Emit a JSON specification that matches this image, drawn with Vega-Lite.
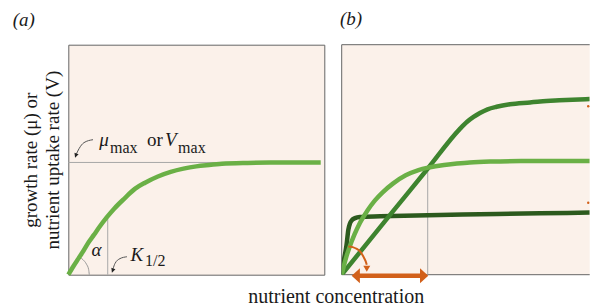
{
  "$schema": "https://vega.github.io/schema/vega-lite/v6.json",
  "autosize": {"type": "none"},
  "padding": {"left": 68.3, "top": 44.7, "right": 521.7, "bottom": 263.3},
  "bounds": "flush",
  "spacing": 17.4,
  "background": "white",
  "config": {
    "font": "Liberation Serif",
    "axis": {"grid": false, "labels": false, "ticks": false, "domain": false},
    "title": {"font": "Liberation Serif", "fontSize": 19, "fontWeight": "normal", "fontStyle": "italic", "color": "#1a1a1a", "anchor": "start", "frame": "group", "baseline": "alphabetic", "offset": 15}
  },
  "datasets": {
    "curveA": [
      {"x": 0, "y": 0}, {"x": 2, "y": 3.7}, {"x": 4, "y": 7.1}, {"x": 6, "y": 10.5}, {"x": 8, "y": 14.2},
      {"x": 10, "y": 17.3}, {"x": 12, "y": 20.5}, {"x": 15, "y": 24.9}, {"x": 18, "y": 28.8}, {"x": 22, "y": 33.2},
      {"x": 26, "y": 37.3}, {"x": 30, "y": 40.0}, {"x": 35, "y": 42.7}, {"x": 40, "y": 44.7}, {"x": 45, "y": 46.1},
      {"x": 50, "y": 47.1}, {"x": 55, "y": 47.7}, {"x": 60, "y": 48.2}, {"x": 70, "y": 48.6}, {"x": 80, "y": 48.75},
      {"x": 90, "y": 48.8}, {"x": 98.6, "y": 48.8}
    ],
    "guidesA": [
      {"x": 0, "x2": 70, "y": 48.8, "y2": 48.8},
      {"x": 15.4, "x2": 15.4, "y": 0, "y2": 25.3}
    ],
    "arcA": [
      {"x": 8.2, "y": 0}, {"x": 7.93, "y": 2.35}, {"x": 7.1, "y": 4.57}, {"x": 5.8, "y": 6.46}, {"x": 4.45, "y": 7.65}
    ],
    "arrowsA": [
      {"arrow": "max", "x": 9.65, "y": 58.7}, {"arrow": "max", "x": 6.1, "y": 57.4}, {"arrow": "max", "x": 4.2, "y": 54.8}, {"arrow": "max", "x": 3.2, "y": 52.6},
      {"arrow": "K", "x": 22.9, "y": 7.8}, {"arrow": "K", "x": 20.2, "y": 7.0}, {"arrow": "K", "x": 18.2, "y": 4.8}, {"arrow": "K", "x": 17.5, "y": 2.6}
    ],
    "headsA": [
      {"arrow": "max", "x": 3.0, "y": 52.0},
      {"arrow": "K", "x": 17.4, "y": 2.0}
    ],
    "italicA": [
      {"t": "μ", "x": 12.1, "y": 55.8},
      {"t": "V", "x": 37.8, "y": 55.8},
      {"t": "α", "x": 9.1, "y": 8.0},
      {"t": "K", "x": 24.3, "y": 5.8}
    ],
    "romanA": [
      {"t": "or", "x": 30.7, "y": 55.8}
    ],
    "subA": [
      {"t": "max", "x": 16.3, "y": 53.0},
      {"t": "max", "x": 42.9, "y": 53.0},
      {"t": "1/2", "x": 30.0, "y": 3.6}
    ],
    "frameB": [
      {"x": 0, "x2": 0, "y": 0, "y2": 100},
      {"x": 0, "x2": 96.875, "y": 100, "y2": 100},
      {"x": 0, "x2": 96.875, "y": 0, "y2": 0}
    ],
    "guidesB": [
      {"x": 33.6, "x2": 33.6, "y": 0, "y2": 46.5}
    ],
    "curvesB": [
      {"series": "curve 1", "x": 0, "y": 0}, {"series": "curve 1", "x": 0.9, "y": 6.5}, {"series": "curve 1", "x": 1.9, "y": 13.0},
      {"series": "curve 1", "x": 2.6, "y": 19.6}, {"series": "curve 1", "x": 3.2, "y": 22.2}, {"series": "curve 1", "x": 4.0, "y": 23.7},
      {"series": "curve 1", "x": 5.2, "y": 24.6}, {"series": "curve 1", "x": 7.1, "y": 25.1}, {"series": "curve 1", "x": 15, "y": 25.4},
      {"series": "curve 1", "x": 33.7, "y": 25.9}, {"series": "curve 1", "x": 54, "y": 26.3}, {"series": "curve 1", "x": 77.5, "y": 26.7},
      {"series": "curve 1", "x": 96.9, "y": 27.0},
      {"series": "curve 2", "x": 0, "y": 0}, {"series": "curve 2", "x": 20, "y": 27.5}, {"series": "curve 2", "x": 33.8, "y": 46.4},
      {"series": "curve 2", "x": 46, "y": 63.2}, {"series": "curve 2", "x": 49, "y": 66.5}, {"series": "curve 2", "x": 51.5, "y": 68.6},
      {"series": "curve 2", "x": 54, "y": 70.3}, {"series": "curve 2", "x": 57, "y": 71.9}, {"series": "curve 2", "x": 60.5, "y": 73.0},
      {"series": "curve 2", "x": 65.7, "y": 74.1}, {"series": "curve 2", "x": 73.6, "y": 74.9}, {"series": "curve 2", "x": 77.5, "y": 75.3},
      {"series": "curve 2", "x": 85, "y": 75.8}, {"series": "curve 2", "x": 96.9, "y": 76.4},
      {"series": "curve 3", "x": 0, "y": 0}, {"series": "curve 3", "x": 1, "y": 4.5}, {"series": "curve 3", "x": 2, "y": 8.5},
      {"series": "curve 3", "x": 3, "y": 11.8}, {"series": "curve 3", "x": 5, "y": 17.5}, {"series": "curve 3", "x": 7, "y": 22.3},
      {"series": "curve 3", "x": 10, "y": 27.8}, {"series": "curve 3", "x": 13, "y": 32.3}, {"series": "curve 3", "x": 16, "y": 35.8},
      {"series": "curve 3", "x": 20, "y": 39.6}, {"series": "curve 3", "x": 25, "y": 43.2}, {"series": "curve 3", "x": 30, "y": 45.5},
      {"series": "curve 3", "x": 34, "y": 46.6}, {"series": "curve 3", "x": 40, "y": 47.7}, {"series": "curve 3", "x": 45, "y": 48.3},
      {"series": "curve 3", "x": 50, "y": 48.8}, {"series": "curve 3", "x": 58, "y": 49.2}, {"series": "curve 3", "x": 70, "y": 49.4},
      {"series": "curve 3", "x": 80, "y": 49.4}, {"series": "curve 3", "x": 96.9, "y": 49.4}
    ],
    "shaftB": [
      {"x": 5.5, "x2": 32.2, "y": -0.43}
    ],
    "endsB": [
      {"end": "left", "x": 5.5, "y": -0.43},
      {"end": "right", "x": 32.2, "y": -0.43}
    ],
    "arcB": [
      {"x": 2.6, "y": 12.3}, {"x": 4.3, "y": 12.0}, {"x": 5.9, "y": 11.2}, {"x": 7.4, "y": 9.8},
      {"x": 8.4, "y": 8.0}, {"x": 9.3, "y": 6.0}, {"x": 9.8, "y": 4.3}
    ],
    "arcHeadB": [
      {"x": 9.8, "y": 3.0}
    ],
    "edgeMarksB": [
      {"x": 96.3, "y": 73.2},
      {"x": 96.3, "y": 31.3}
    ]
  },
  "hconcat": [
    {
      "width": 256,
      "height": 230,
      "view": {"fill": "#fbf1ea", "stroke": "#666666", "strokeWidth": 1},
      "title": {"text": "(a)", "dx": -55.6},
      "encoding": {
        "x": {"field": "x", "type": "quantitative", "scale": {"domain": [0, 100], "nice": false, "zero": false},
          "axis": {"title": "nutrient concentration", "titleFont": "Liberation Serif", "titleFontSize": 20, "titleFontWeight": "normal", "titleColor": "#1a1a1a", "titleX": 267.4, "titleY": 28, "titleBaseline": "alphabetic", "titleAlign": "center"}},
        "y": {"field": "y", "type": "quantitative", "scale": {"domain": [0, 100], "nice": false, "zero": false},
          "axis": {"title": ["growth rate (μ) or", "nutrient uptake rate (V)"], "titleFont": "Liberation Serif", "titleFontSize": 19, "titleFontWeight": "normal", "titleColor": "#1a1a1a", "titleLineHeight": 22, "titlePadding": 6}}
      },
      "layer": [
        {"data": {"name": "guidesA"}, "mark": {"type": "rule", "color": "#a8a8a8", "strokeWidth": 1},
          "encoding": {"x2": {"field": "x2"}, "y2": {"field": "y2"}}},
        {"data": {"name": "arcA"}, "mark": {"type": "line", "color": "#9a9a9a", "strokeWidth": 1, "interpolate": "monotone"}, "encoding": {}},
        {"data": {"name": "curveA"}, "mark": {"type": "line", "color": "#6ab046", "strokeWidth": 4.5, "interpolate": "monotone"}, "encoding": {}},
        {"data": {"name": "arrowsA"}, "mark": {"type": "line", "color": "#555555", "strokeWidth": 1, "interpolate": "monotone"},
          "encoding": {"detail": {"field": "arrow"}}},
        {"data": {"name": "headsA"}, "mark": {"type": "point", "filled": true, "opacity": 1, "color": "#222222", "size": 30, "angle": 20, "shape": "M0,1 L-0.8,-0.6 L0.8,-0.6 Z"}, "encoding": {}},
        {"data": {"name": "italicA"}, "mark": {"type": "text", "font": "Liberation Serif", "fontStyle": "italic", "fontSize": 19, "align": "left", "baseline": "alphabetic", "color": "#1a1a1a"},
          "encoding": {"text": {"field": "t"}}},
        {"data": {"name": "romanA"}, "mark": {"type": "text", "font": "Liberation Serif", "fontSize": 19, "align": "left", "baseline": "alphabetic", "color": "#1a1a1a"},
          "encoding": {"text": {"field": "t"}}},
        {"data": {"name": "subA"}, "mark": {"type": "text", "font": "Liberation Serif", "fontSize": 16, "align": "left", "baseline": "alphabetic", "color": "#1a1a1a"},
          "encoding": {"text": {"field": "t"}}}
      ]
    },
    {
      "width": 248,
      "height": 230,
      "view": {"fill": "#fbf1ea", "stroke": null},
      "title": {"text": "(b)", "dx": -1.7},
      "encoding": {
        "x": {"field": "x", "type": "quantitative", "scale": {"domain": [0, 96.875], "nice": false, "zero": false}, "axis": null},
        "y": {"field": "y", "type": "quantitative", "scale": {"domain": [0, 100], "nice": false, "zero": false}, "axis": null}
      },
      "layer": [
        {"data": {"name": "frameB"}, "mark": {"type": "rule", "color": "#666666", "strokeWidth": 1},
          "encoding": {"x2": {"field": "x2"}, "y2": {"field": "y2"}}},
        {"data": {"name": "guidesB"}, "mark": {"type": "rule", "color": "#a8a8a8", "strokeWidth": 1},
          "encoding": {"x2": {"field": "x2"}, "y2": {"field": "y2"}}},
        {"data": {"name": "curvesB"}, "mark": {"type": "line", "strokeWidth": 4.5, "interpolate": "monotone", "clip": true},
          "encoding": {"color": {"field": "series", "type": "nominal", "legend": null,
            "scale": {"domain": ["curve 1", "curve 2", "curve 3"], "range": ["#2c5a1e", "#3e842f", "#6ab046"]}}}},
        {"data": {"name": "shaftB"}, "mark": {"type": "rule", "color": "#d2601a", "strokeWidth": 4.5},
          "encoding": {"x2": {"field": "x2"}}},
        {"data": {"name": "endsB"}, "mark": {"type": "point", "filled": true, "opacity": 1, "color": "#d2601a", "size": 225},
          "encoding": {"shape": {"field": "end", "type": "nominal", "legend": null,
            "scale": {"domain": ["left", "right"], "range": ["M-0.55,0 L0.55,-1 L0.55,1 Z", "M0.55,0 L-0.55,-1 L-0.55,1 Z"]}}}},
        {"data": {"name": "arcB"}, "mark": {"type": "line", "color": "#d2601a", "strokeWidth": 2, "interpolate": "monotone"}, "encoding": {}},
        {"data": {"name": "arcHeadB"}, "mark": {"type": "point", "filled": true, "opacity": 1, "color": "#d2601a", "size": 60, "shape": "M0,1 L-0.9,-0.5 L0.9,-0.5 Z"}, "encoding": {}},
        {"data": {"name": "edgeMarksB"}, "mark": {"type": "point", "filled": true, "opacity": 1, "color": "#d2601a", "size": 6, "shape": "circle"}, "encoding": {}}
      ]
    }
  ]
}
